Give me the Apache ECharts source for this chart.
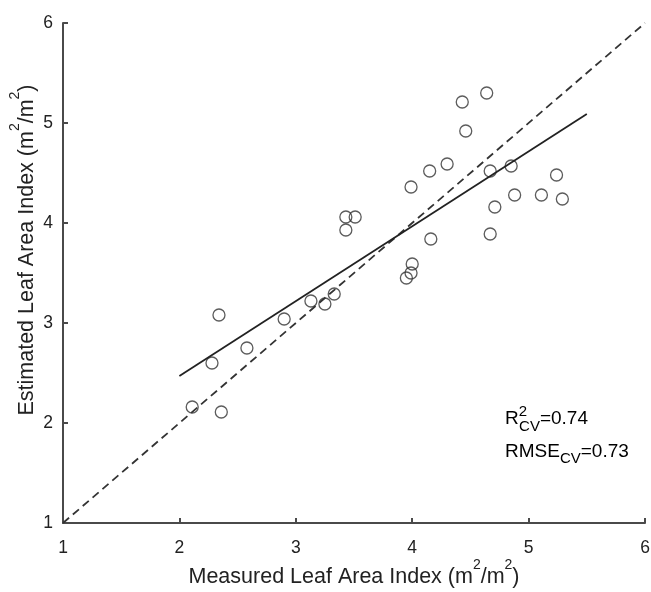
<!DOCTYPE html>
<html>
<head>
<meta charset="utf-8">
<script src="https://cdn.jsdelivr.net/npm/echarts@6/dist/echarts.min.js"></script>
<style>html,body{margin:0;padding:0;background:#fff}#c{width:651px;height:592px}</style>
</head>
<body>
<div id="c"></div>
<script>
var measured = [2.11, 2.36, 2.28, 2.34, 2.58, 2.90, 3.13, 3.25, 3.33, 3.43, 3.43, 3.51, 3.95, 3.99, 4.00, 3.99, 4.15, 4.16, 4.30, 4.43, 4.46, 4.64, 4.67, 4.67, 4.71, 4.85, 4.88, 5.11, 5.24, 5.29];
var estimated = [2.16, 2.11, 2.60, 3.08, 2.75, 3.04, 3.22, 3.19, 3.29, 3.93, 4.06, 4.06, 3.45, 3.50, 3.59, 4.36, 4.52, 3.84, 4.59, 5.21, 4.92, 5.30, 4.52, 3.89, 4.16, 4.57, 4.28, 4.28, 4.48, 4.24];
var fitX = [2.0, 5.5];
var fitY = [2.47, 5.09];
var oneToOne = [1, 6];
var axisTicks = [1, 2, 3, 4, 5, 6];

var scatterData = measured.map(function (x, i) { return [x, estimated[i]]; });
var fitData = fitX.map(function (x, i) { return [x, fitY[i]]; });
var refData = oneToOne.map(function (v) { return [v, v]; });

var chart = echarts.init(document.getElementById('c'));
var font = 'Liberation Sans, Arial, sans-serif';
var nameRich = {
  m: { fontSize: 21.5, fontFamily: font, color: '#222', verticalAlign: 'bottom', lineHeight: 30 },
  s: { fontSize: 14, fontFamily: font, color: '#222', verticalAlign: 'top', lineHeight: 30 }
};
function axisBase() {
  return {
    type: 'value', min: axisTicks[0], max: axisTicks[axisTicks.length - 1], interval: 1,
    axisLine: { show: true, lineStyle: { color: '#4a4a4a', width: 2 } },
    axisTick: { show: true, inside: true, length: 5, lineStyle: { color: '#4a4a4a', width: 2 } },
    splitLine: { show: false },
    nameLocation: 'middle',
    nameMoveOverlap: false
  };
}
chart.setOption({
  animation: false,
  grid: { left: 63, top: 23, width: 582, height: 500, containLabel: false, outerBoundsMode: 'none' },
  xAxis: Object.assign(axisBase(), {
    name: '{m|Measured Leaf Area Index (m}{s|2}{m|/m}{s|2}{m|)}',
    nameGap: 35,
    nameTextStyle: { color: '#222', fontSize: 21.5, fontFamily: font, rich: nameRich },
    axisLabel: { color: '#222', fontSize: 17.5, fontFamily: font, margin: 16 }
  }),
  yAxis: Object.assign(axisBase(), {
    name: '{m|Estimated Leaf Area Index (m}{s|2}{m|/m}{s|2}{m|)}',
    nameGap: 25,
    nameTextStyle: { color: '#222', fontSize: 21.5, fontFamily: font, rich: nameRich, padding: [0, 0, 0, 46] },
    axisLabel: { color: '#222', fontSize: 17.5, fontFamily: font, margin: 10 }
  }),
  graphic: [{
    type: 'text', left: 505, top: 404, silent: true,
    style: {
      text: '{n|R}{sup|2}{sub|CV}{n|=0.74}',
      rich: {
        n: { fontSize: 19, fontFamily: font, color: '#222', lineHeight: 30, verticalAlign: 'middle' },
        sup: { fontSize: 15, fontFamily: font, color: '#222', lineHeight: 30, verticalAlign: 'top', padding: [0, -8, 0, 0] },
        sub: { fontSize: 15, fontFamily: font, color: '#222', lineHeight: 30, verticalAlign: 'bottom' }
      }
    }
  }, {
    type: 'text', left: 505, top: 442, silent: true,
    style: {
      text: '{n|RMSE}{sub|CV}{n|=0.73}',
      rich: {
        n: { fontSize: 19, fontFamily: font, color: '#222', lineHeight: 30, verticalAlign: 'middle' },
        sub: { fontSize: 15, fontFamily: font, color: '#222', lineHeight: 30, verticalAlign: 'bottom' }
      }
    }
  }],
  series: [
    {
      type: 'line', data: refData, symbol: 'none', silent: true,
      lineStyle: { color: '#333', width: 1.8, type: [8, 5] }
    },
    {
      type: 'line', data: fitData, symbol: 'none', silent: true,
      lineStyle: { color: '#222', width: 1.8 }
    },
    {
      type: 'scatter', data: scatterData, symbol: 'circle', symbolSize: 12,
      itemStyle: { color: 'rgba(0,0,0,0)', borderColor: '#333', borderWidth: 1.3 }
    }
  ]
});
</script>
</body>
</html>
